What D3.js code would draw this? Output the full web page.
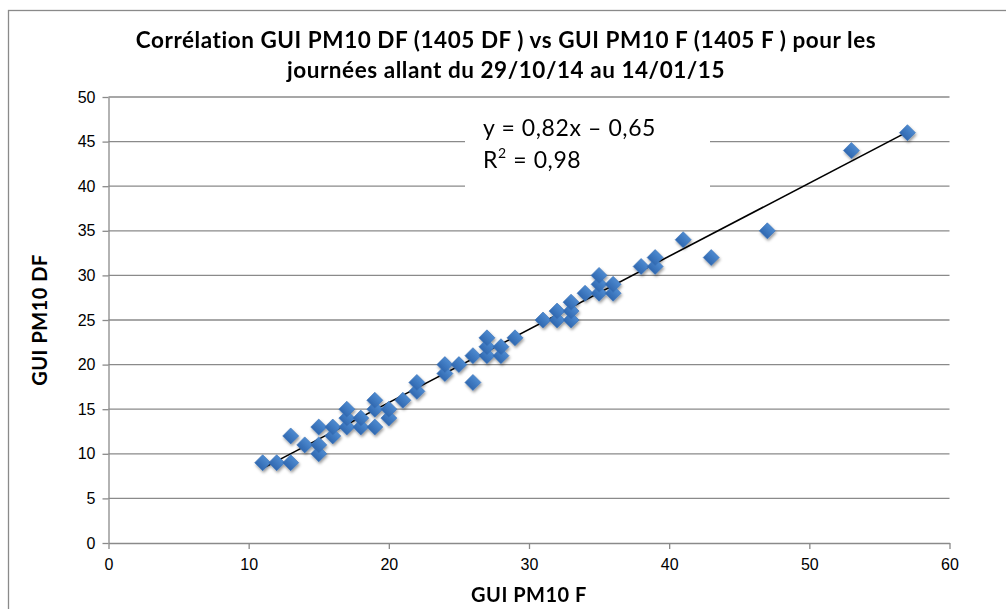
<!DOCTYPE html>
<html lang="fr">
  <head>
    <meta charset="UTF-8" />
    <title>Corrélation GUI PM10 DF vs GUI PM10 F</title>
    <script src="https://d3js.org/d3.v7.min.js"></script>
    <style>
      body {
        margin: 0;
        background: #fff;
        font-family: Lato, "Open Sans", sans-serif;
      }
      .grid line {
        stroke: #8a8a8a;
        stroke-width: 1.3px;
      }
      .axis path,
      .axis line {
        stroke: #8a8a8a;
        stroke-width: 1.3px;
      }
      .axis text {
        font-size: 16px;
        fill: #000;
      }
    </style>
  </head>
  <body>
    <svg id="chart" width="1006" height="609"></svg>

    <script>
      // GUI PM10 F (x) / GUI PM10 DF (y)
      const pm10F = [
        11, 12, 13, 13, 14, 15, 15, 15, 16, 16, 17, 17, 17, 18, 18, 19, 19, 19,
        20, 20, 21, 22, 22, 24, 24, 25, 26, 26, 27, 27, 27, 28, 28, 29, 31, 32,
        32, 33, 33, 33, 34, 35, 35, 35, 36, 36, 38, 39, 39, 41, 43, 47, 53, 57,
      ];
      const pm10DF = [
        9, 9, 9, 12, 11, 10, 11, 13, 12, 13, 13, 14, 15, 13, 14, 13, 15, 16,
        14, 15, 16, 17, 18, 19, 20, 20, 18, 21, 21, 22, 23, 21, 22, 23, 25, 25,
        26, 25, 26, 27, 28, 28, 29, 30, 28, 29, 31, 31, 32, 34, 32, 35, 44, 46,
      ];
      const xTicks = [0, 10, 20, 30, 40, 50, 60];
      const yTicks = [0, 5, 10, 15, 20, 25, 30, 35, 40, 45, 50];
      const slope = 0.82;
      const intercept = -0.65;
      const titleLines = [
        "Corrélation GUI PM10 DF (1405 DF ) vs GUI PM10 F (1405 F ) pour les",
        "journées allant du 29/10/14 au 14/01/15",
      ];

      const points = pm10F.map((f, i) => ({ f: f, df: pm10DF[i] }));

      const svg = d3.select("#chart");
      const plotLeft = 108.5,
        plotRight = 949.5,
        plotTop = 97,
        plotBottom = 543;

      const x = d3.scaleLinear().domain([0, 60]).range([plotLeft, plotRight]);
      const y = d3.scaleLinear().domain([0, 50]).range([plotBottom, plotTop]);

      // outer frame
      svg
        .append("rect")
        .attr("x", 8.5)
        .attr("y", 10.5)
        .attr("width", 1010)
        .attr("height", 620)
        .attr("fill", "#fff")
        .attr("stroke", "#8a8a8a")
        .attr("stroke-width", 1.3);

      const defs = svg.append("defs");
      const grad = defs
        .append("linearGradient")
        .attr("id", "mk")
        .attr("x1", 0)
        .attr("y1", 0)
        .attr("x2", 0)
        .attr("y2", 1);
      grad.append("stop").attr("offset", "0%").attr("stop-color", "#4d8ad0");
      grad.append("stop").attr("offset", "100%").attr("stop-color", "#3068b0");
      const shadow = defs
        .append("filter")
        .attr("id", "shadow")
        .attr("x", "-50%")
        .attr("y", "-50%")
        .attr("width", "200%")
        .attr("height", "200%");
      shadow
        .append("feDropShadow")
        .attr("dx", 1)
        .attr("dy", 2)
        .attr("stdDeviation", 1.6)
        .attr("flood-color", "#000")
        .attr("flood-opacity", 0.4);

      // horizontal grid
      svg
        .append("g")
        .attr("class", "grid")
        .selectAll("line")
        .data(yTicks.filter((t) => t > 0))
        .enter()
        .append("line")
        .attr("x1", plotLeft)
        .attr("x2", plotRight)
        .attr("y1", (d) => y(d))
        .attr("y2", (d) => y(d));

      // axes
      svg
        .append("g")
        .attr("class", "axis")
        .attr("transform", `translate(0,${plotBottom})`)
        .call(
          d3
            .axisBottom(x)
            .tickValues(xTicks)
            .tickSize(6)
            .tickPadding(10)
            .tickSizeOuter(0)
        );

      svg
        .append("g")
        .attr("class", "axis")
        .attr("transform", `translate(${plotLeft},0)`)
        .call(
          d3
            .axisLeft(y)
            .tickValues(yTicks)
            .tickSize(6)
            .tickPadding(7)
            .tickSizeOuter(0)
        );

      // label box for the equation (hides the grid behind it)
      svg
        .append("rect")
        .attr("x", 465)
        .attr("y", 106)
        .attr("width", 245)
        .attr("height", 88)
        .attr("fill", "#fff");

      // trend line
      const fExt = d3.extent(pm10F);
      svg
        .append("line")
        .attr("x1", x(fExt[0]))
        .attr("y1", y(slope * fExt[0] + intercept))
        .attr("x2", x(fExt[1]))
        .attr("y2", y(slope * fExt[1] + intercept))
        .attr("stroke", "#000")
        .attr("stroke-width", 1.6);

      // markers
      const diamond = d3.symbol(d3.symbolSquare, 128);
      svg
        .append("g")
        .attr("filter", "url(#shadow)")
        .selectAll("path")
        .data(points)
        .enter()
        .append("path")
        .attr("d", diamond)
        .attr(
          "transform",
          (d) => `translate(${x(d.f)},${y(d.df)}) rotate(45)`
        )
        .attr("fill", "url(#mk)")
        .attr("stroke", "#3a72b8")
        .attr("stroke-width", 0.6);

      // equation
      svg
        .append("text")
        .attr("x", 483)
        .attr("y", 136)
        .attr("font-size", 23)
        .attr("letter-spacing", 0.6)
        .attr("fill", "#000")
        .text(
          `y = ${String(slope).replace(".", ",")}x – ${String(-intercept).replace(".", ",")}`
        );
      const r2 = svg
        .append("text")
        .attr("x", 483)
        .attr("y", 168)
        .attr("font-size", 23)
        .attr("letter-spacing", 0.6)
        .attr("fill", "#000");
      r2.append("tspan").text("R");
      r2.append("tspan").attr("dy", -10).attr("font-size", 14).text("2");
      r2.append("tspan").attr("dy", 10).text(" = 0,98");

      // title
      svg
        .append("g")
        .selectAll("text")
        .data(titleLines)
        .enter()
        .append("text")
        .attr("x", 506)
        .attr("y", (d, i) => 48 + i * 30)
        .attr("text-anchor", "middle")
        .attr("font-size", 22.5)
        .attr("letter-spacing", 0.55)
        .attr("font-weight", "bold")
        .attr("fill", "#000")
        .text((d) => d);

      // axis titles
      svg
        .append("text")
        .attr("x", (plotLeft + plotRight) / 2)
        .attr("y", 602)
        .attr("text-anchor", "middle")
        .attr("font-size", 20)
        .attr("letter-spacing", 0.5)
        .attr("font-weight", "bold")
        .text("GUI PM10 F");

      svg
        .append("text")
        .attr("transform", `translate(47,${(plotTop + plotBottom) / 2}) rotate(-90)`)
        .attr("text-anchor", "middle")
        .attr("font-size", 20)
        .attr("letter-spacing", 0.5)
        .attr("font-weight", "bold")
        .text("GUI PM10 DF");
    </script>
  </body>
</html>
